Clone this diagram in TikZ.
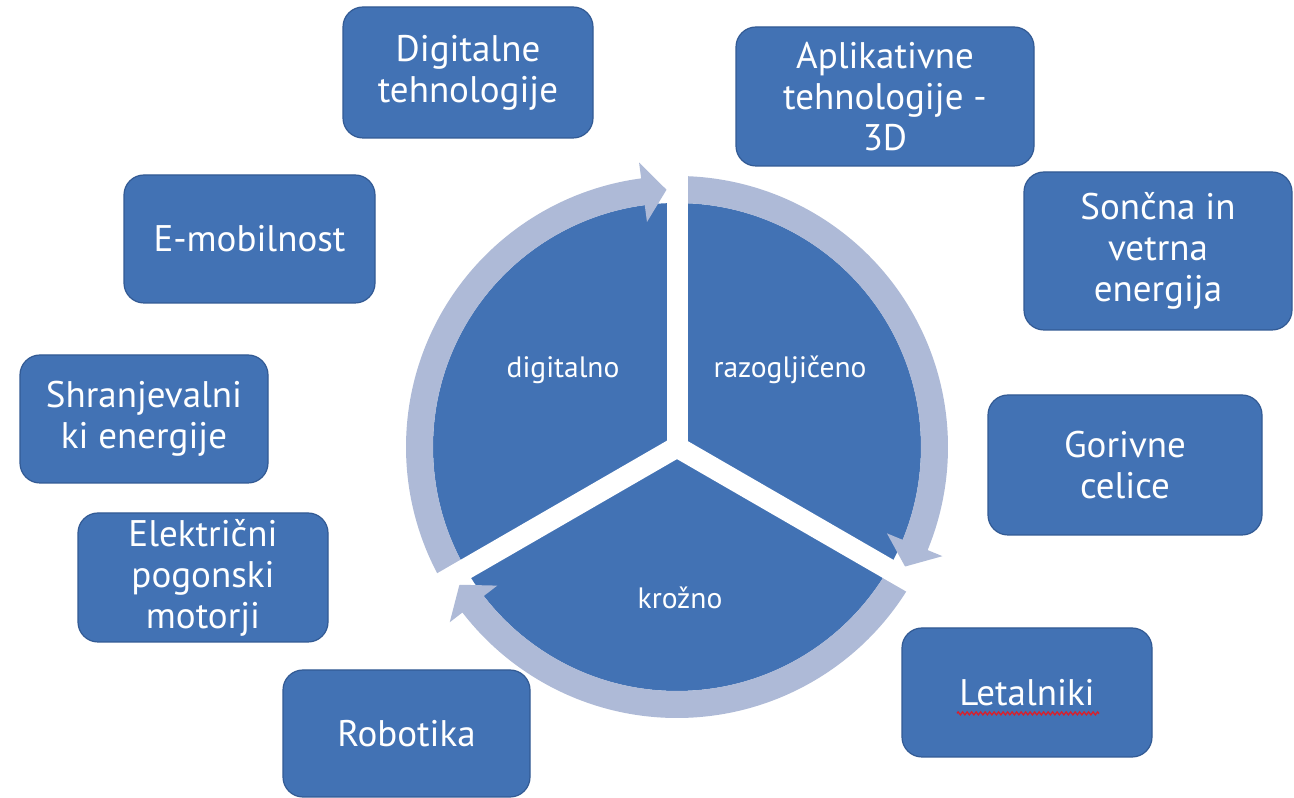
\documentclass[tikz,border=0pt]{standalone}
\usepackage{fontspec}
\setmainfont{PT Sans}
\usetikzlibrary{decorations.pathmorphing}

\definecolor{boxblue}{RGB}{66,114,180}
\definecolor{boxedge}{RGB}{50,90,148}
\definecolor{ringblue}{RGB}{174,186,215}
\definecolor{spellred}{RGB}{220,30,40}

\tikzset{
  topic/.style={draw=boxedge, line width=1.2pt, fill=boxblue, rounded corners=20pt,
    text=white, font=\fontsize{37}{41}\selectfont, align=center, inner sep=0pt},
  sectorlabel/.style={text=white, font=\fontsize{29.5}{34}\selectfont, inner sep=0pt},
  cyclearrow/.style={fill=ringblue},
  gapline/.style={white, line width=21pt},
}

\begin{document}
\begin{tikzpicture}[x=1pt,y=1pt]
\useasboundingbox (0,0) rectangle (1294,798);
\fill[white] (0,0) rectangle (1294,798);

\coordinate (C) at (677,351);

% central disc split later into three sectors
\fill[boxblue] (C) circle[radius=244];

% three circular arrows around the disc, running clockwise
\begin{scope}[shift={(C)}]
  \fill[cyclearrow] (210:271) arc[start angle=210, end angle=97.6, radius=271]
    -- (97.6:287) -- (92.34:257.5) -- (97.6:227) -- (97.6:244)
    arc[start angle=97.6, end angle=210, radius=244] -- cycle;
  \fill[cyclearrow] (90:271) arc[start angle=90, end angle=-22.36, radius=271]
    -- (-22.36:287) -- (-27.66:257.5) -- (-22.36:227) -- (-22.36:244)
    arc[start angle=-22.36, end angle=90, radius=244] -- cycle;
  \fill[cyclearrow] (-30:271) arc[start angle=-30, end angle=-142.36, radius=271]
    -- (-142.36:287) -- (-147.66:257.5) -- (-142.36:227) -- (-142.36:244)
    arc[start angle=-142.36, end angle=-30, radius=244] -- cycle;

  % white gaps between the sectors
  \draw[gapline] (0,0) -- (90:278);
  \draw[gapline] (0,0) -- (210:278);
  \draw[gapline] (0,0) -- (330:278);
  \fill[white] (150:12.2) -- (30:12.2) -- (270:12.2) -- cycle;
\end{scope}

% sector labels
\node[sectorlabel] (dig) at (563,428) {digitalno};
\node[sectorlabel] (raz) at (790,428) {razogljičeno};
\node[sectorlabel] (kro) at (680,200) {krožno};

% surrounding topics
\node[topic, minimum width=250, minimum height=131] (t1) at (468,725.5) {Digitalne\\tehnologije};
\node[topic, minimum width=298, minimum height=139] (t2) at (885,701.5) {Aplikativne\\tehnologije -\\3D};
\node[topic, minimum width=268, minimum height=158] (t3) at (1158,547) {Sončna in\\vetrna\\energija};
\node[topic, minimum width=251, minimum height=128] (t4) at (249.5,559) {E-mobilnost};
\node[topic, minimum width=248, minimum height=128] (t5) at (144,379) {Shranjevalni\\ki energije};
\node[topic, minimum width=274, minimum height=140] (t6) at (1125,333) {Gorivne\\celice};
\node[topic, minimum width=250, minimum height=129] (t7) at (203,220.5) {Električni\\pogonski\\motorji};
\node[topic, minimum width=247, minimum height=127] (t8) at (406.5,64.5) {Robotika};
\node[topic, minimum width=250, minimum height=129] (t9) at (1027,105.5) {Letalniki};

% spell-check underline below the word
\draw[spellred, line width=1.3pt, decorate,
  decoration={zigzag, amplitude=1.5pt, segment length=4.5pt}]
  ([xshift=-70pt,yshift=-8pt]t9.base) -- ([xshift=72pt,yshift=-8pt]t9.base);
\end{tikzpicture}
\end{document}
